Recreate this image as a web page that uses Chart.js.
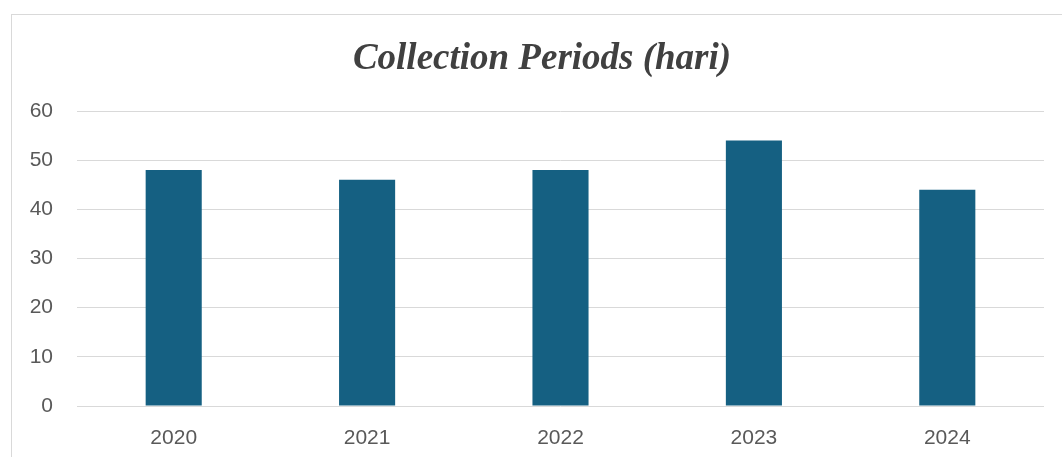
<!DOCTYPE html>
<html>
<head>
<meta charset="utf-8">
<script src="https://cdn.jsdelivr.net/npm/chart.js@4.4.0/dist/chart.umd.min.js"></script>
<style>
  html, body { margin: 0; padding: 0; background: #ffffff; overflow: hidden; }
  #frame { position: absolute; left: 11px; top: 14px; width: 1100px; height: 500px; border: 1.5px solid #d9d9d9; }
  #wrap { position: absolute; left: 0; top: 0; width: 1062px; height: 457px; }
</style>
</head>
<body>
<div id="frame"></div>
<div id="wrap"><canvas id="myChart" width="1062" height="457"></canvas></div>
<script>
const years = ['2020', '2021', '2022', '2023', '2024'];
const collectionDays = [48, 46, 48, 54, 44];
const yTicks = [0, 10, 20, 30, 40, 50, 60];
const chartTitle = 'Collection Periods (hari)';

const chartCanvas = document.getElementById('myChart');
const tickFont = { family: "'Liberation Sans', Arial, sans-serif", size: 21 };

// title drawn by hand so it can sit a bit right of centre like the original
const titlePlugin = {
  id: 'titleText',
  afterDraw(chart) {
    const ctx = chart.ctx;
    ctx.save();
    ctx.font = "italic bold 37px 'Liberation Serif', 'Times New Roman', serif";
    ctx.fillStyle = '#404040';
    ctx.textAlign = 'center';
    ctx.textBaseline = 'alphabetic';
    ctx.fillText(chartTitle, 542, 69);
    ctx.restore();
  }
};

const myChart = new Chart(chartCanvas.getContext('2d'), {
  type: 'bar',
  data: {
    labels: years,
    datasets: [{
      label: chartTitle,
      data: collectionDays,
      backgroundColor: '#156082',
      borderWidth: 0,
      categoryPercentage: 1,
      barPercentage: 0.29
    }]
  },
  options: {
    responsive: false,
    animation: false,
    layout: { padding: { left: 0, right: 18, top: 111, bottom: 0 } },
    plugins: {
      legend: { display: false },
      tooltip: { enabled: false },
      title: { display: false }
    },
    scales: {
      x: {
        grid: { display: false, drawTicks: false },
        border: { display: false },
        ticks: { color: '#595959', font: tickFont, padding: 20 },
        afterFit: function(scale) { scale.height = 51; }
      },
      y: {
        min: 0,
        max: 60,
        afterBuildTicks: function(scale) { scale.ticks = yTicks.map(v => ({ value: v })); },
        grid: { color: '#d9d9d9', lineWidth: 1, drawTicks: false },
        border: { display: false },
        ticks: { color: '#595959', font: tickFont, padding: 24 },
        afterFit: function(scale) { scale.width = 77; }
      }
    }
  },
  plugins: [titlePlugin]
});
</script>
</body>
</html>
